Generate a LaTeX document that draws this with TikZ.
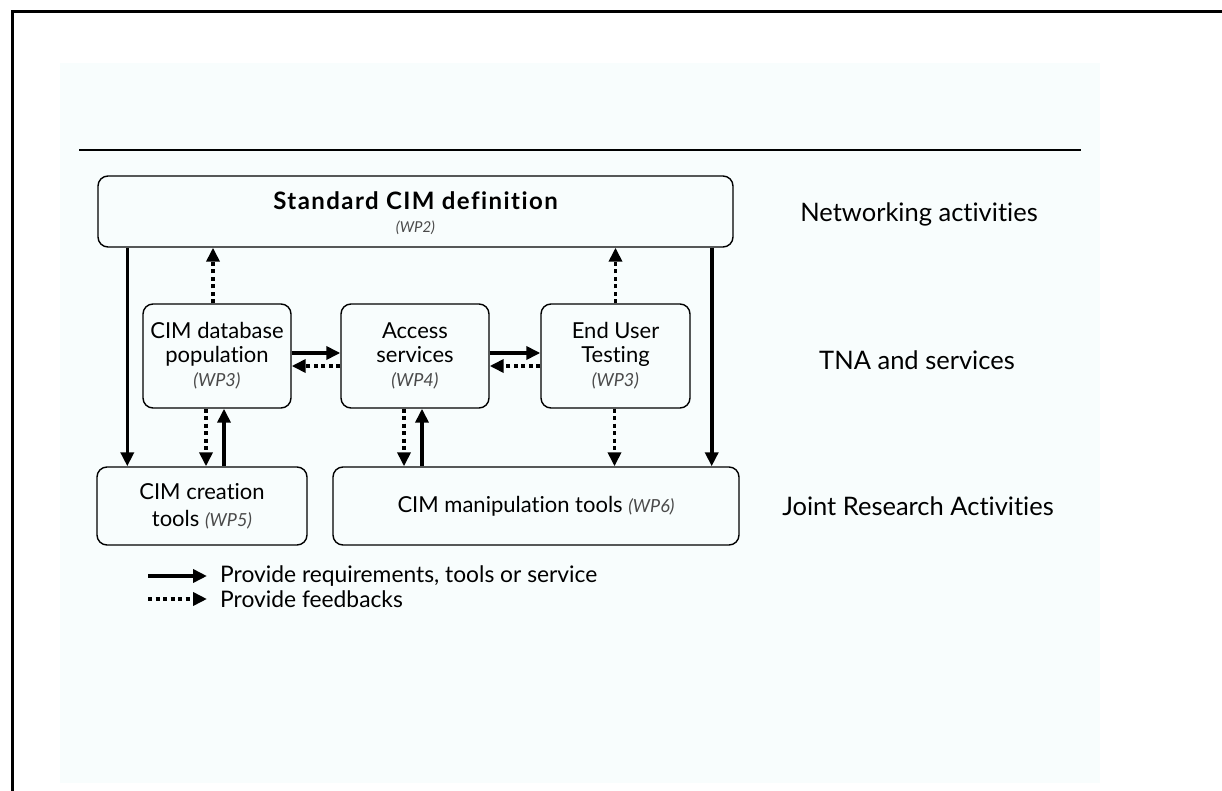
\documentclass[tikz,border=0pt]{standalone}
\usepackage{fontspec}
\setmainfont{Lato}[Ligatures=NoCommon]
\usetikzlibrary{arrows.meta,calc}
\definecolor{panel}{HTML}{F8FDFD}
\definecolor{wpgray}{HTML}{4A4A4A}
\begin{document}
\begin{tikzpicture}[x=1pt,y=-1pt,
  box/.style={draw,line width=1.4pt,rounded corners=10pt,inner sep=0pt,align=center,
    font=\fontsize{22}{24}\selectfont},
  req/.style={line width=3.6pt,-{Triangle[length=14pt,width=13pt]}},
  fb/.style={req,dash pattern=on 4pt off 3.5pt},
  layer/.style={font=\fontsize{25.5}{28}\selectfont,anchor=center},
  legend/.style={font=\fontsize{22.8}{24}\selectfont,anchor=west,inner sep=0pt}]
\newcommand{\wpref}[2][18]{{\fontsize{#1}{20}\selectfont\mdseries\itshape\color{wpgray}(#2)}}

\useasboundingbox (0,0) rectangle (1222,791);

% page frame and panel
\fill[panel] (60,63) rectangle (1100,783);
\draw[line width=3pt] (12,791) -- (12,12) -- (1222,12);
\draw[line width=1.2pt] (79,150) -- (1081,150);

% boxes
\node[box,minimum width=635pt,minimum height=71pt] (top) at (415.5,211.5) {};
\node[align=center,inner sep=0pt,font=\fontsize{24}{23}\selectfont] (toptext) at ([yshift=-2pt]top.center)
  {{\bfseries\addfontfeatures{LetterSpace=6}Standard CIM definition}\\\wpref[15]{WP2}};
\node[box,minimum width=148pt,minimum height=104pt] (db) at (217,356)
  {CIM database\\population\\\wpref{WP3}};
\node[box,minimum width=148pt,minimum height=104pt] (acc) at (415,356)
  {Access\\services\\\wpref{WP4}};
\node[box,minimum width=149pt,minimum height=104pt] (eut) at (615.5,356)
  {End User\\Testing\\\wpref{WP3}};
\node[box,minimum width=210pt,minimum height=78pt,font=\fontsize{22}{27}\selectfont] (cre) at (202,506)
  {CIM creation\\tools \wpref{WP5}};
\node[box,minimum width=406pt,minimum height=78pt] (man) at (536,506)
  {CIM manipulation tools \wpref{WP6}};

% layer labels
\node[layer] (l1) at (919,214) {Networking activities};
\node[layer] (l2) at (917,360) {TNA and services};
\node[layer] (l3) at (918,506) {Joint Research Activities};

% standard definition feeds the tools
\draw[req] ([xshift=30pt]top.south west) -- ([xshift=30pt]top.south west |- cre.north);
\draw[req] ([xshift=-22pt]top.south east) -- ([xshift=-22pt]top.south east |- man.north);
% feedback to the standard
\draw[fb] ([xshift=-4pt]db.north) -- ([xshift=-4pt]db.north |- top.south);
\draw[fb] (eut.north) -- (eut.north |- top.south);
% service chain
\draw[req] ([yshift=3pt]db.east) -- ([yshift=3pt]acc.west);
\draw[fb] ([yshift=-10pt]acc.west) -- ([yshift=-10pt]db.east);
\draw[req] ([yshift=3pt]acc.east) -- ([yshift=3pt]eut.west);
\draw[fb] ([yshift=-10pt]eut.west) -- ([yshift=-10pt]acc.east);
% tools exchange
\draw[fb] ([xshift=-11pt]db.south) -- ([xshift=-11pt]db.south |- cre.north);
\draw[req] ([xshift=7pt]db.south |- cre.north) -- ([xshift=7pt]db.south);
\draw[fb] ([xshift=-11pt]acc.south) -- ([xshift=-11pt]acc.south |- man.north);
\draw[req] ([xshift=7pt]acc.south |- man.north) -- ([xshift=7pt]acc.south);
\draw[fb] ([xshift=-1pt]eut.south) -- ([xshift=-1pt]eut.south |- man.north);

% legend
\coordinate (k1a) at (148,576);
\coordinate (k1b) at (207,576);
\coordinate (k2a) at (148,599);
\coordinate (k2b) at (207,599);
\draw[req] (k1a) -- (k1b);
\draw[fb] (k2a) -- (k2b);
\node[legend] (t1) at (220,576) {Provide requirements, tools or service};
\node[legend] (t2) at (220,599) {Provide feedbacks};
\end{tikzpicture}
\end{document}
